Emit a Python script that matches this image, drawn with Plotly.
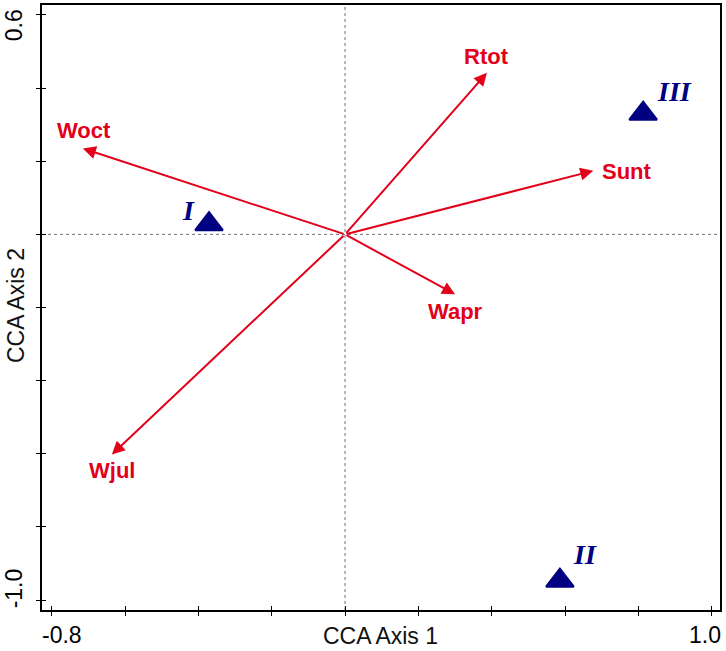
import plotly.graph_objects as go

# Environmental variables (biplot arrows)
env_vars = ["Rtot", "Woct", "Sunt", "Wapr", "Wjul"]
env_axis1 = [0.387, -0.715, 0.677, 0.300, -0.636]
env_axis2 = [0.442, 0.235, 0.174, -0.164, -0.602]

# Sites (triangles)
sites = ["I", "II", "III"]
site_axis1 = [-0.371, 0.586, 0.813]
site_axis2 = [0.028, -0.947, 0.330]

x_tick_labels = ["-0.8", "1.0"]
y_tick_labels = ["0.6", "-1.0"]

RED = "#E2001A"
NAVY = "#000080"
SANS = "Liberation Sans, Arial, sans-serif"
SERIF = "Liberation Serif, Times New Roman, serif"

XR = [-0.8265, 1.0226]
YR = [-1.0272, 0.6273]

fig = go.Figure()

fig.add_trace(go.Scatter(
    x=site_axis1, y=site_axis2, mode="markers",
    marker=dict(symbol="triangle-up", size=24, color=NAVY,
                line=dict(color=NAVY, width=2)),
    hoverinfo="skip", showlegend=False))

# invisible trace for the secondary (inside tick) axes
fig.add_trace(go.Scatter(x=[0], y=[0], xaxis="x2", yaxis="y2", mode="markers",
                         marker=dict(opacity=0), showlegend=False, hoverinfo="skip"))

annotations = []
label_shift = {"Rtot": (0, 16, "center"), "Woct": (1, 18, "center"),
               "Sunt": (7, -1, "left"), "Wapr": (0, -17, "center"),
               "Wjul": (0, -16, "center")}
for name, ex, ey in zip(env_vars, env_axis1, env_axis2):
    annotations.append(dict(x=ex, y=ey, ax=0, ay=0, xref="x", yref="y",
                            axref="x", ayref="y", text="", showarrow=True,
                            arrowhead=2, arrowsize=1.3, arrowwidth=2,
                            arrowcolor=RED, standoff=0, startstandoff=0))
    dx, dy, xa = label_shift[name]
    annotations.append(dict(x=ex, y=ey, xref="x", yref="y", text="<b>%s</b>" % name,
                            showarrow=False, xshift=dx, yshift=dy, xanchor=xa,
                            yanchor="middle",
                            font=dict(family=SANS, size=22, color=RED)))

site_shift = {"I": (-21, 14), "II": (25, 26), "III": (31, 22)}
for name, sx, sy in zip(sites, site_axis1, site_axis2):
    dx, dy = site_shift[name]
    annotations.append(dict(x=sx, y=sy, xref="x", yref="y",
                            text="<b><i>%s</i></b>" % name, showarrow=False,
                            xshift=dx, yshift=dy,
                            font=dict(family=SERIF, size=28, color=NAVY)))

# tick labels
for lab, xv in zip(x_tick_labels, [-0.772, 0.982]):
    annotations.append(dict(x=xv, y=-0.041, xref="paper" if False else "x", yref="paper",
                            text=lab, showarrow=False, xanchor="center", yanchor="middle",
                            font=dict(family=SANS, size=23, color="black")))
for lab, yv in zip(y_tick_labels, [0.572, -0.968]):
    annotations.append(dict(x=-0.0413, y=yv, xref="paper", yref="y", text=lab,
                            showarrow=False, textangle=-90, xanchor="center",
                            yanchor="middle",
                            font=dict(family=SANS, size=23, color="black")))
# axis titles
annotations.append(dict(x=(380 - 42) / 678, y=(610 - 636) / 607, xref="paper", yref="paper",
                        text="CCA Axis 1", showarrow=False, xanchor="center",
                        yanchor="middle", font=dict(family=SANS, size=23, color="#111")))
annotations.append(dict(x=(16 - 42) / 678, y=(610 - 305) / 607, xref="paper", yref="paper",
                        text="CCA Axis 2", showarrow=False, textangle=-90,
                        xanchor="center", yanchor="middle",
                        font=dict(family=SANS, size=23, color="#111")))

shapes = [
    dict(type="line", xref="x", yref="paper", x0=0, x1=0, y0=0, y1=1,
         line=dict(color="#707070", width=1, dash="dot"), layer="below"),
    dict(type="line", xref="paper", yref="y", x0=0, x1=1, y0=0, y1=0,
         line=dict(color="#707070", width=1, dash="dot"), layer="below"),
]

axis_common = dict(showgrid=False, zeroline=False, showticklabels=False,
                   ticklen=4, tickwidth=1.3, tickcolor="black")

fig.update_layout(
    width=726, height=651,
    margin=dict(l=42, r=6, t=3, b=41),
    paper_bgcolor="white", plot_bgcolor="white",
    xaxis=dict(range=XR, tick0=-0.8, dtick=0.2, ticks="outside",
               showline=True, linecolor="black", linewidth=1.5, mirror=True,
               **axis_common),
    yaxis=dict(range=YR, tick0=0.6, dtick=0.2, ticks="outside",
               showline=True, linecolor="black", linewidth=1.5, mirror=True,
               **axis_common),
    xaxis2=dict(range=XR, tick0=-0.8, dtick=0.2, ticks="inside", overlaying="x",
                anchor="y2", side="bottom", showline=False, **axis_common),
    yaxis2=dict(range=YR, tick0=0.6, dtick=0.2, ticks="inside", overlaying="y",
                anchor="x2", side="left", showline=False, **axis_common),
    annotations=annotations,
    shapes=shapes,
    showlegend=False,
)

fig.write_html("out.html")
